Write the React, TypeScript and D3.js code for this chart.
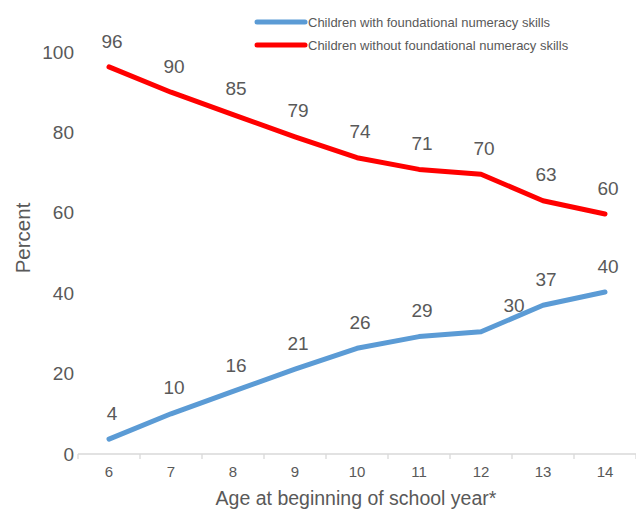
import React from "react";
import * as d3 from "d3";

const ages = ["6", "7", "8", "9", "10", "11", "12", "13", "14"];
const withSkills = [3.7, 10.0, 15.6, 21.1, 26.3, 29.2, 30.4, 37.0, 40.3];
const withoutSkills = [96.3, 90.0, 84.4, 78.9, 73.7, 70.8, 69.6, 63.0, 59.7];
const withLabels = ["4", "10", "16", "21", "26", "29", "30", "37", "40"];
const withoutLabels = ["96", "90", "85", "79", "74", "71", "70", "63", "60"];
const yTicks = [0, 20, 40, 60, 80, 100];
const seriesNames = [
  "Children with foundational numeracy skills",
  "Children without foundational numeracy skills",
];
const colors = ["#5b9bd5", "#ff0000"];
// per-label horizontal nudge (px) for the "with skills" series
const withLabelDx = [0, 0, 0, 0, 0, 0, 30, 0, 0];

const W = 636;
const H = 512;
const FONT = "'Liberation Sans', Arial, sans-serif";
const GREY = "#595959";

export default function App() {
  const x = d3.scaleBand<string>().domain(ages).range([78, 636]);
  const y = d3.scaleLinear().domain([0, 100]).range([454, 52]);
  const cx = (a: string) => (x(a) as number) + x.bandwidth() / 2;
  const line = d3
    .line<number>()
    .x((_, i) => cx(ages[i]))
    .y((d) => y(d));

  const series = [
    { values: withSkills, labels: withLabels, color: colors[0], dx: withLabelDx },
    { values: withoutSkills, labels: withoutLabels, color: colors[1], dx: ages.map(() => 0) },
  ];

  const bounds = ages.map((a) => x(a) as number).concat([636]);

  return (
    <svg
      width={W}
      height={H}
      style={{ position: "absolute", left: 0, top: 0, background: "#fff" }}
      fontFamily={FONT}
    >
      {/* y tick labels */}
      {yTicks.map((t) => (
        <text key={t} x={74} y={y(t)} dy="0.35em" textAnchor="end" fontSize={19} fill={GREY}>
          {t}
        </text>
      ))}
      <text
        transform={`translate(23,238) rotate(-90)`}
        textAnchor="middle"
        fontSize={20.5}
        fill={GREY}
        dy="0.35em"
      >
        Percent
      </text>

      {/* x axis */}
      <line x1={78} x2={636} y1={y(0)} y2={y(0)} stroke="#d9d9d9" strokeWidth={1.3} />
      {bounds.map((b, i) => (
        <line key={i} x1={b} x2={b} y1={y(0)} y2={y(0) + 5} stroke="#d9d9d9" strokeWidth={1.3} />
      ))}
      {ages.map((a) => (
        <text key={a} x={cx(a)} y={472} dy="0.35em" textAnchor="middle" fontSize={15} fill={GREY}>
          {a}
        </text>
      ))}
      <text x={356} y={498} dy="0.35em" textAnchor="middle" fontSize={19.5} fill={GREY}>
        Age at beginning of school year*
      </text>

      {/* lines */}
      {series.map((s, si) => (
        <path
          key={si}
          d={line(s.values) as string}
          fill="none"
          stroke={s.color}
          strokeWidth={5}
          strokeLinecap="round"
          strokeLinejoin="round"
        />
      ))}

      {/* data labels */}
      {series.map((s, si) =>
        s.values.map((v, i) => (
          <text
            key={`${si}-${i}`}
            x={cx(ages[i]) + 3 + s.dx[i]}
            y={y(v) - 26}
            dy="0.35em"
            textAnchor="middle"
            fontSize={19}
            fill={GREY}
          >
            {s.labels[i]}
          </text>
        ))
      )}

      {/* legend */}
      {seriesNames.map((n, i) => (
        <g key={n} transform={`translate(0,${22 + i * 23})`}>
          <line x1={257} x2={305} y1={0} y2={0} stroke={colors[i]} strokeWidth={5} strokeLinecap="round" />
          <text x={308} y={0} dy="0.35em" fontSize={13} fill={GREY}>
            {n}
          </text>
        </g>
      ))}
    </svg>
  );
}
